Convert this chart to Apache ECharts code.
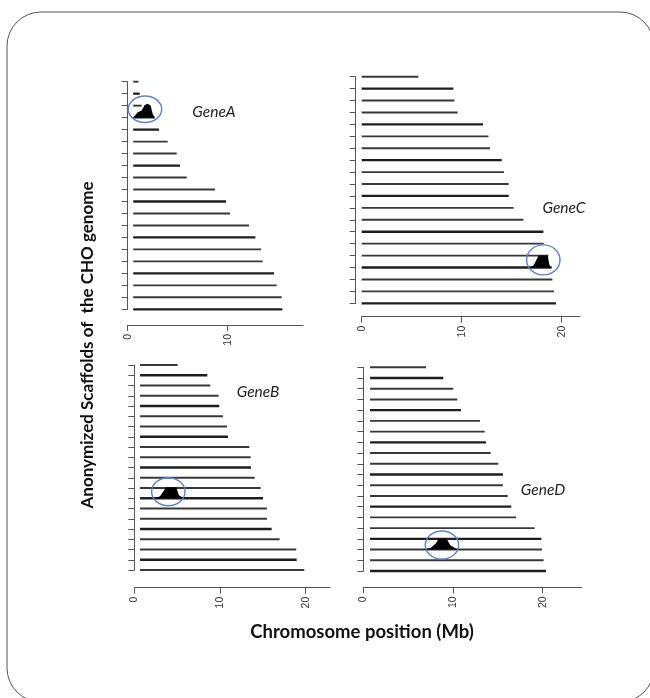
<!DOCTYPE html>
<html>
<head>
<meta charset="utf-8">
<script src="https://cdn.jsdelivr.net/npm/echarts@6/dist/echarts.min.js"></script>
<style>html,body{margin:0;padding:0;background:#fff}#c{width:650px;height:698px}</style>
</head>
<body>
<div id="c"></div>
<script>
// ---- data (Mb) ----
const geneNames = ['GeneA', 'GeneB', 'GeneC', 'GeneD'];
const xTicksA = [0, 10];
const xTicksB = [0, 10, 20];
const xTicksC = [0, 10, 20];
const xTicksD = [0, 10, 20];
const startA = 0.55, startB = 0.67, startC = 0.0, startD = 0.75;
const lengthsA = [1.07, 1.2, 1.4, 2.7, 3.13, 4.0, 4.9, 5.23, 5.9, 8.73, 9.83, 10.23, 12.13, 12.77, 13.33, 13.5, 14.63, 14.9, 15.4, 15.47];
const lengthsB = [5.06, 8.52, 8.87, 9.84, 9.92, 10.35, 10.82, 10.93, 13.42, 13.58, 13.62, 14.05, 14.75, 15.02, 15.48, 15.48, 16.03, 16.96, 18.9, 18.95, 19.84];
const lengthsC = [5.67, 9.17, 9.27, 9.6, 12.13, 12.67, 12.83, 14.0, 14.23, 14.7, 14.7, 15.2, 16.17, 18.17, 18.2, 18.67, 19.0, 19.07, 19.23, 19.43];
const lengthsD = [6.99, 8.92, 10.03, 10.48, 10.89, 13.01, 13.53, 13.68, 14.2, 15.05, 15.57, 15.57, 16.1, 16.5, 17.02, 19.1, 19.85, 19.92, 20.1, 20.37];
// gene signal peaks: scaffold row, x positions (Mb), heights (in rows)
const humpRowA = 4, humpXA = [0.55, 1.0, 1.4, 1.7, 2.0, 2.3, 2.5, 2.73], humpHA = [0, 0.45, 0.6, 1.05, 1.15, 1.0, 0.3, 0];
const humpRowB = 14, humpXB = [2.4, 3.0, 3.5, 3.7, 4.9, 5.2, 5.7, 6.0], humpHB = [0, 0.2, 0.8, 1.07, 1.07, 0.3, 0.05, 0];
const humpRowC = 17, humpXC = [16.8, 17.2, 17.5, 17.7, 18.6, 18.75, 18.9], humpHC = [0, 0.2, 0.7, 1.0, 1.0, 0.3, 0];
const humpRowD = 18, humpXD = [6.5, 7.5, 8.1, 8.4, 9.3, 9.7, 10.3, 10.8], humpHD = [0, 0.15, 0.6, 1.0, 1.0, 0.4, 0.1, 0];
// highlight circle centres [Mb, row]
const circleA = [1.73, 3.3];
const circleB = [3.97, 13.36];
const circleC = [18.16, 16.36];
const circleD = [8.77, 17.58];

// ---- layout ----
const panels = [
  { name: geneNames[0], lengths: lengthsA, start: startA, ticks: xTicksA, hr: humpRowA, hx: humpXA, hh: humpHA, circ: circleA,
    grid: { left: 127.7, top: 81.7, width: 175.3, height: 227.6 }, xmax: 17.53, xoff: 15.7, yoff: 0, rx: 16.7, ry: 13.3, label: [214, 111.7] },
  { name: geneNames[1], lengths: lengthsB, start: startB, ticks: xTicksB, hr: humpRowB, hx: humpXB, hh: humpHB, circ: circleB,
    grid: { left: 134.3, top: 365, width: 195.7, height: 205 }, xmax: 22.84, xoff: 17.7, yoff: 0, rx: 16.7, ry: 14, label: [258, 391.7] },
  { name: geneNames[2], lengths: lengthsC, start: startC, ticks: xTicksC, hr: humpRowC, hx: humpXC, hh: humpHC, circ: circleC,
    grid: { left: 361.7, top: 76.7, width: 218.3, height: 226.6 }, xmax: 21.83, xoff: 13.4, yoff: 6, rx: 16.7, ry: 15, label: [564, 208.3] },
  { name: geneNames[3], lengths: lengthsD, start: startD, ticks: xTicksD, hr: humpRowD, hx: humpXD, hh: humpHD, circ: circleD,
    grid: { left: 363.3, top: 367.3, width: 218.4, height: 203.7 }, xmax: 24.35, xoff: 16.3, yoff: 0, rx: 16.7, ry: 14, label: [543, 490] }
];

const axisColor = '#555';
const grids = [], xAxes = [], yAxes = [], series = [], graphics = [];

panels.forEach((p, i) => {
  grids.push(Object.assign({ containLabel: false }, p.grid));
  xAxes.push({
    gridIndex: i, type: 'value', min: 0, max: p.xmax, offset: p.xoff,
    axisLine: { show: true, onZero: false, lineStyle: { color: axisColor, width: 1 } },
    axisTick: { show: true, length: 6, customValues: p.ticks, lineStyle: { color: axisColor, width: 1 } },
    axisLabel: { customValues: p.ticks, rotate: 90, margin: 9, fontSize: 10.5, color: '#333', fontFamily: 'Liberation Sans' },
    splitLine: { show: false }
  });
  yAxes.push({
    gridIndex: i, type: 'value', inverse: true, min: 1, max: p.lengths.length, interval: 1, offset: p.yoff,
    axisLine: { show: true, onZero: false, lineStyle: { color: axisColor, width: 1 } },
    axisTick: { show: true, length: 6, lineStyle: { color: axisColor, width: 1 } },
    axisLabel: { show: false },
    splitLine: { show: false }
  });
  series.push({
    type: 'custom', xAxisIndex: i, yAxisIndex: i, silent: true,
    data: p.lengths.map((e, r) => [p.start, e, r + 1]),
    renderItem: (params, api) => {
      const a = api.coord([api.value(0), api.value(2)]);
      const b = api.coord([api.value(1), api.value(2)]);
      return { type: 'line', shape: { x1: a[0], y1: a[1], x2: b[0], y2: b[1] },
        style: { stroke: (params.dataIndex % 3 === 1) ? '#1e1e1e' : '#383838', lineWidth: (params.dataIndex % 3 === 1) ? 2.3 : 1.9 } };
    }
  });
  series.push({
    type: 'custom', xAxisIndex: i, yAxisIndex: i, silent: true,
    data: [[p.hx[0], p.hr]],
    renderItem: (params, api) => {
      const pts = p.hx.map((x, k) => api.coord([x, p.hr - p.hh[k]]));
      return { type: 'polygon', shape: { points: pts }, style: { fill: '#000' } };
    }
  });
  series.push({
    type: 'custom', xAxisIndex: i, yAxisIndex: i, silent: true, z: 5,
    data: [p.circ],
    renderItem: (params, api) => {
      const c = api.coord([api.value(0), api.value(1)]);
      return { type: 'ellipse', shape: { cx: c[0], cy: c[1], rx: p.rx, ry: p.ry },
        style: { fill: 'none', stroke: '#5b80d4', lineWidth: 1.4 } };
    }
  });
  graphics.push({ type: 'text', x: p.label[0], y: p.label[1],
    style: { text: p.name, font: 'italic 15.5px Lato', fill: '#222', textAlign: 'center', textVerticalAlign: 'middle' } });
});

graphics.push({ type: 'rect', shape: { x: 7, y: 12, width: 647, height: 690, r: 34 },
  style: { fill: 'none', stroke: '#555', lineWidth: 1 } });
graphics.push({ type: 'text', x: 88, y: 345, rotation: Math.PI / 2,
  style: { text: 'Anonymized Scaffolds of  the CHO genome', font: 'bold 17px Lato', fill: '#111', textAlign: 'center', textVerticalAlign: 'middle' } });
graphics.push({ type: 'text', x: 362, y: 632,
  style: { text: 'Chromosome position (Mb)', font: 'bold 18.5px Lato', fill: '#111', textAlign: 'center', textVerticalAlign: 'middle' } });

const chart = echarts.init(document.getElementById('c'), null, { renderer: 'canvas' });
chart.setOption({
  animation: false,
  backgroundColor: '#fff',
  grid: grids, xAxis: xAxes, yAxis: yAxes, series: series, graphic: graphics
});
</script>
</body>
</html>
